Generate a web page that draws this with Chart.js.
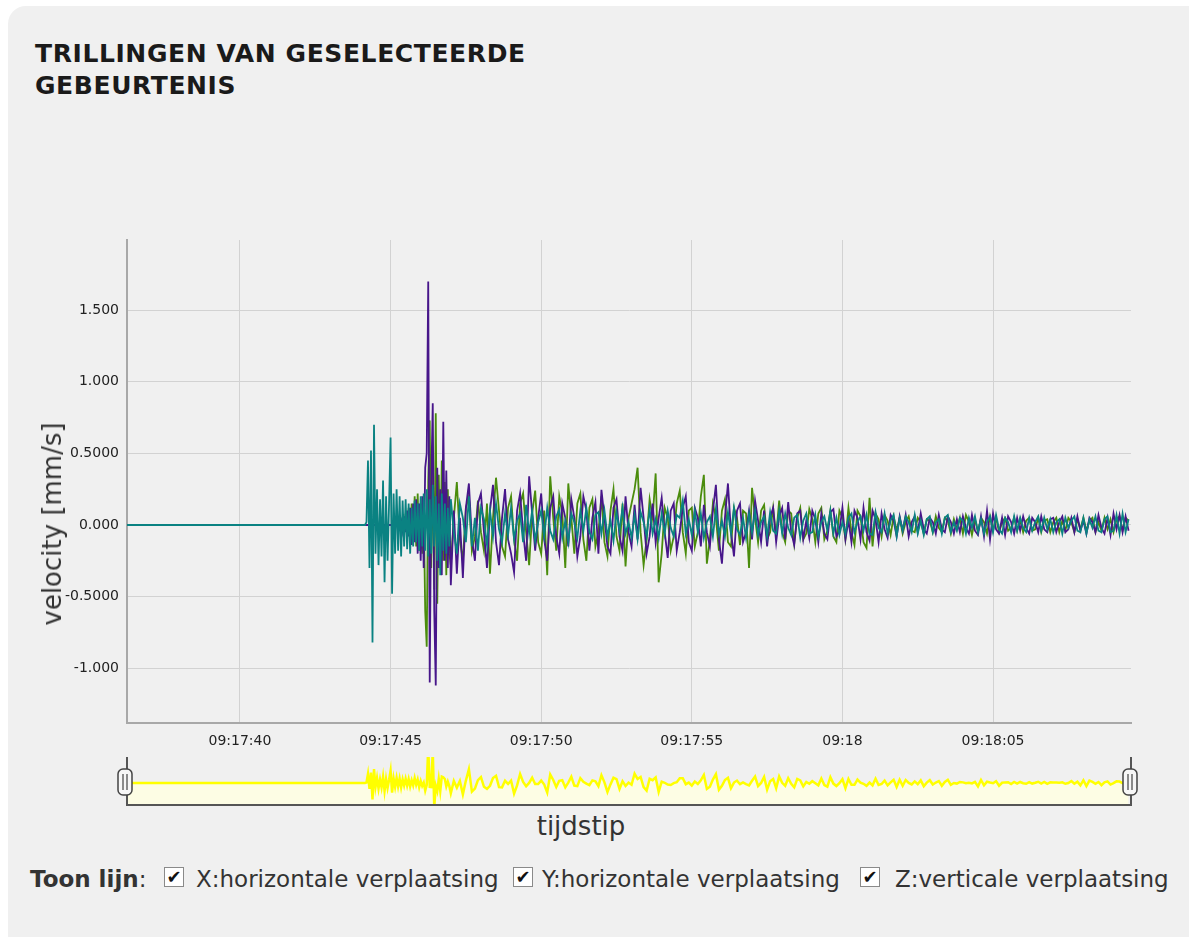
<!DOCTYPE html>
<html>
<head>
<meta charset="utf-8">
<title>Trillingen</title>
<script src="https://cdn.jsdelivr.net/npm/chart.js@4.4.1/dist/chart.umd.min.js"></script>
<style>
  body { margin: 0; background: #fff; font-family: "DejaVu Sans", Verdana, sans-serif; color: #333; }
  #panel { position: absolute; left: 8px; top: 6px; width: 1181px; height: 931px; background: #f0f0f0; border-top-left-radius: 18px; }
  h1 { position: absolute; left: 35px; top: 38px; margin: 0; font-size: 25px; line-height: 32px; letter-spacing: 0.6px; color: #1a1a1a; }
  #main { position: absolute; left: 0; top: 200px; }
  #mini { position: absolute; left: 0; top: 750px; }
  #ylabel { position: absolute; left: 52px; top: 524px; transform: translate(-50%, -50%) rotate(-90deg); font-size: 26px; white-space: nowrap; }
  #xlabel { position: absolute; left: 581px; top: 826px; transform: translate(-50%, -50%); font-size: 26px; }
  .item { position: absolute; top: 866px; font-size: 23px; line-height: 26px; white-space: nowrap; }
  .box { position: absolute; top: 867px; width: 18px; height: 18px; border: 1px solid #8a8a8a; background: #fff; font-size: 18px; line-height: 18px; text-align: center; color: #111; }
</style>
</head>
<body>
<div id="panel"></div>
<h1>TRILLINGEN VAN GESELECTEERDE<br>GEBEURTENIS</h1>
<canvas id="main" width="1160" height="560"></canvas>
<canvas id="mini" width="1160" height="60"></canvas>
<div id="ylabel">velocity [mm/s]</div>
<div id="xlabel">tijdstip</div>
<div class="item" style="left:30px"><b>Toon lijn</b>:</div>
<span class="box" style="left:164px">✔</span>
<div class="item" style="left:196px">X:horizontale verplaatsing</div>
<span class="box" style="left:513px">✔</span>
<div class="item" style="left:542px">Y:horizontale verplaatsing</div>
<span class="box" style="left:860px">✔</span>
<div class="item" style="left:895px">Z:verticale verplaatsing</div>

<script>
// times in seconds after 09:17:00
const recordStart = 36.25
const recordEnd = 69.58
// onset recorded at 20 samples/s, the rest at 10 samples/s
const onsetStart = 44.0
const onsetStep = 0.05
const mainStart = 47.0
const mainStep = 0.1

const xTickValues = [40, 45, 50, 55, 60, 65]
const xTickLabels = ['09:17:40', '09:17:45', '09:17:50', '09:17:55', '09:18', '09:18:05']
const yTickValues = [-1, -0.5, 0, 0.5, 1, 1.5]
const yTickLabels = ['-1.000', '-0.5000', '0.000', '0.5000', '1.000', '1.500']
const yMin = -1.382
const yMax = 1.989

const seriesNames = ['X:horizontale verplaatsing', 'Y:horizontale verplaatsing', 'Z:verticale verplaatsing']

// 44.00 - 46.95 s, one row per half second
const xOnset = [
  0, 0, 0, 0, 0, 0, 0, 0, 0, 0,
  0, 0, 0, 0, 0, 0, 0, 0, 0, 0,
  0, 0, 0, 0, 0, 0, 0.02, -0.03, 0.05, -0.04,
  0.08, -0.06, 0.12, -0.10, 0.15, -0.12, 0.20, -0.15, 0.22, -0.18,
  0.15, -0.20, 0.10, -0.60, -0.85, 0.30, 0.73, -0.30, 0.50, -0.45,
  0.78, -0.55, 0.35, -0.30, 0.45, -0.25, 0.30, -0.35, 0.25, -0.20
]
const yOnset = [
  0, 0, 0, 0, 0, 0, 0, 0, 0, 0,
  0, 0, 0, 0, 0, 0, 0, 0, 0, 0,
  0, 0, 0, 0, 0, 0, 0, 0.03, -0.04, 0.06,
  -0.05, 0.10, -0.08, 0.12, -0.14, 0.15, -0.12, 0.18, -0.20, 0.15,
  -0.25, 0.20, -0.30, 0.40, 0.50, 1.70, -1.10, 0.30, 0.85, -0.60,
  -1.12, 0.40, -0.30, 0.25, -0.35, 0.72, -0.25, 0.38, -0.30, 0.20
]
const zOnset = [
  0, 0, 0, 0, 0.02, 0.45, -0.30, 0.52, -0.82, 0.70,
  -0.20, 0.25, -0.28, 0.18, -0.22, 0.31, -0.40, 0.20, -0.25, 0.15,
  0.61, -0.48, 0.22, -0.20, 0.25, -0.18, 0.20, -0.22, 0.17, -0.15,
  0.18, -0.17, 0.15, -0.20, 0.12, -0.15, 0.17, -0.12, 0.15, -0.18,
  0.20, -0.15, 0.22, -0.18, 0.25, -0.22, 0.18, -0.20, 0.28, -0.15,
  0.20, -0.25, 0.15, -0.35, 0.22, -0.18, 0.15, -0.20, 0.12, -0.15
]

// 47.0 - 69.5 s, one row per second
const xValues = [
  -0.28, 0.05, 0.30, -0.10, -0.25, 0.12, 0.20, -0.18, -0.08, 0.17,
  -0.05, -0.18, 0.15, -0.34, 0.05, 0.33, 0.10, -0.15, -0.22, 0.12,
  0.20, -0.10, -0.25, 0.15, 0.22, -0.05, -0.28, 0.08, 0.24, -0.12,
  -0.20, 0.10, -0.35, 0.34, 0.05, -0.18, 0.20, 0.08, -0.30, 0.29,
  0.05, -0.20, 0.15, 0.22, -0.10, -0.25, 0.12, 0.18, -0.15, -0.05,
  0.20, -0.12, -0.22, 0.10, 0.25, -0.08, -0.18, 0.15, -0.29, 0.05,
  0.15, 0.25, 0.40, -0.05, -0.28, -0.10, 0.18, 0.05, 0.36, -0.40,
  -0.20, 0.12, 0.05, -0.18, -0.08, 0.15, 0.24, -0.05, -0.20, 0.10,
  0.12, -0.15, -0.05, 0.20, 0.35, -0.27, -0.10, 0.15, 0.05, -0.18,
  0.10, 0.18, -0.12, -0.15, 0.12, 0.05, -0.14, 0.10, 0.08, -0.30,
  0.26, 0.05, -0.12, 0.10, 0.14, -0.10, -0.05, 0.12, -0.08, 0.17,
  -0.05, -0.12, 0.10, 0.08, -0.13, 0.05, 0.12, -0.10, -0.06, 0.11,
  0.04, -0.12, 0.08, 0.12, -0.10, -0.04, 0.10, -0.08, -0.12, 0.10,
  0.05, -0.10, 0.12, -0.05, -0.14, 0.10, 0.06, -0.12, -0.16, 0.19,
  -0.15, 0.08, 0.04, -0.08, 0.07, 0.03, -0.07, 0.06, -0.04, 0.05,
  -0.06, 0.02, 0.06, -0.04, -0.05, 0.05, 0.02, -0.06, 0.04, 0.03,
  -0.05, 0.06, -0.02, -0.05, 0.05, 0.03, -0.06, 0.04, -0.03, 0.05,
  -0.06, 0.07, 0.02, -0.07, 0.04, -0.05, 0.05, 0.02, -0.06, 0.06,
  -0.04, 0.05, -0.05, 0.02, 0.05, -0.04, -0.02, 0.05, -0.04, 0.04,
  -0.05, 0.03, 0.05, -0.04, -0.03, 0.05, -0.05, 0.03, 0.04, -0.05,
  0.02, 0.05, -0.05, 0.03, -0.04, 0.05, 0.02, -0.05, 0.04, -0.03,
  0.05, -0.04, 0.03, 0.05, -0.05, 0.02, -0.04, 0.05, -0.03, 0.04,
  -0.05, 0.04, 0.06, -0.04, 0.05, 0.03
]

const yValues = [
  -0.42, 0.10, -0.34, 0.05, -0.37, 0.12, 0.29, -0.10, -0.25, 0.15,
  0.22, -0.05, -0.30, 0.10, 0.28, -0.12, -0.28, 0.05, 0.25, -0.10,
  -0.20, -0.33, 0.10, 0.22, -0.05, -0.25, 0.34, 0.08, -0.18, 0.05,
  0.22, -0.10, -0.25, 0.12, 0.20, -0.08, -0.20, 0.15, 0.05, -0.15,
  0.18, 0.05, -0.22, -0.08, 0.20, 0.10, -0.18, 0.05, 0.16, -0.20,
  0.245, 0.05, -0.15, -0.20, 0.12, 0.18, -0.08, -0.18, 0.20, -0.05,
  -0.15, 0.14, -0.10, 0.26, 0.05, -0.20, -0.08, 0.15, -0.12, 0.05,
  0.19, -0.05, -0.23, 0.10, 0.15, -0.18, -0.05, 0.12, 0.20, -0.12,
  -0.18, 0.12, 0.05, -0.15, 0.14, -0.05, -0.15, 0.10, 0.28, -0.10,
  -0.27, 0.05, 0.29, -0.05, -0.22, 0.10, 0.15, -0.12, -0.05, 0.10,
  -0.10, 0.17, 0.03, -0.12, 0.10, -0.15, 0.05, 0.12, -0.12, 0.06,
  0.12, -0.10, 0.16, -0.05, -0.14, 0.08, 0.10, -0.10, 0.03, -0.09,
  0.10, 0.04, -0.12, 0.08, -0.06, -0.10, 0.09, 0.11, -0.08, -0.04,
  0.12, -0.10, 0.03, -0.12, 0.10, 0.05, -0.10, 0.12, -0.05, -0.11,
  0.10, 0.04, -0.12, 0.08, -0.03, -0.09, 0.07, 0.03, -0.08, 0.06,
  -0.04, 0.07, -0.08, 0.02, 0.06, -0.05, 0.08, -0.03, -0.06, 0.05,
  0.02, -0.06, 0.07, -0.03, -0.05, 0.06, 0.02, -0.06, 0.04, -0.05,
  0.06, -0.02, -0.06, 0.07, -0.04, -0.07, 0.06, -0.08, 0.10, -0.10,
  0.08, -0.03, -0.06, 0.05, -0.07, 0.06, 0.02, -0.06, 0.05, -0.04,
  0.06, -0.02, -0.06, 0.05, 0.02, -0.05, 0.06, -0.03, -0.05, 0.04,
  0.05, -0.05, 0.02, 0.06, -0.05, -0.03, 0.05, -0.05, 0.06, -0.04,
  0.03, -0.06, 0.05, 0.02, -0.05, 0.07, -0.02, -0.06, 0.05, -0.07,
  0.08, -0.03, 0.07, -0.05, 0.06, -0.04
]

const zValues = [
  0.18, -0.05, -0.20, 0.15, 0.05, -0.12, 0.20, -0.15, 0.05, -0.18,
  0.12, 0.04, -0.14, 0.10, -0.08, 0.15, -0.03, -0.12, 0.08, -0.07,
  0.12, -0.10, 0.03, 0.08, -0.12, 0.14, -0.06, 0.10, -0.11, 0.02,
  0.10, -0.08, 0.12, -0.04, -0.10, 0.06, 0.11, -0.09, 0.03, -0.12,
  0.08, 0.02, -0.09, 0.10, -0.04, 0.12, -0.05, -0.10, 0.07, 0.09,
  -0.06, 0.10, -0.08, 0.03, -0.11, 0.09, -0.04, 0.12, -0.06, 0.02,
  -0.09, 0.07, -0.10, 0.09, 0.02, -0.08, 0.11, -0.06, 0.04, -0.09,
  0.08, -0.06, 0.10, -0.02, -0.08, 0.07, 0.05, 0.17, -0.06, 0.04,
  -0.07, 0.10, -0.05, 0.08, -0.09, 0.02, 0.06, -0.08, 0.11, -0.06,
  0.03, -0.08, 0.09, -0.06, 0.12, -0.03, -0.07, 0.05, -0.09, 0.08,
  -0.05, 0.10, -0.07, 0.02, 0.06, -0.08, 0.09, -0.04, -0.06, 0.10,
  -0.06, 0.08, -0.02, -0.07, 0.05, 0.07, -0.09, 0.03, 0.08, -0.06,
  -0.05, 0.07, -0.08, 0.02, 0.06, -0.04, 0.10, -0.06, 0.05, -0.07,
  0.02, -0.06, 0.05, 0.08, -0.05, 0.02, 0.06, -0.04, 0.07, -0.06,
  -0.07, 0.09, -0.02, -0.05, 0.08, -0.06, 0.03, 0.07, -0.08, 0.05,
  -0.04, 0.06, 0.02, -0.05, 0.07, -0.06, 0.03, -0.07, 0.04, 0.06,
  -0.05, 0.02, 0.04, -0.06, 0.05, 0.07, -0.05, 0.02, -0.04, 0.05,
  0.03, -0.06, 0.05, -0.02, 0.06, -0.05, 0.04, -0.06, 0.02, 0.06,
  -0.05, 0.07, -0.03, -0.06, 0.05, 0.02, -0.05, 0.06, -0.04, 0.05,
  -0.02, -0.05, 0.05, -0.04, 0.02, 0.06, -0.04, 0.05, -0.03, 0.04,
  -0.05, 0.02, 0.04, -0.06, 0.05, -0.02, 0.03, 0.06, -0.04, -0.05,
  0.05, -0.06, 0.04, -0.02, 0.06, -0.04, -0.05, 0.04, 0.06, -0.05,
  -0.04, 0.07, -0.06, 0.08, -0.05, 0.04
]

const xColor = '#4a8c0c'
const yColor = '#47168a'
const zColor = '#0a8282'
const gridColor = '#d2d2d2'
const axisColor = '#a8a8a8'
const fontFamily = '"DejaVu Sans", Verdana, sans-serif'

// quiet trace before the event, then the two recorded stretches
function toPoints(onset, values) {
  const points = [{ x: recordStart, y: 0 }]
  onset.forEach((v, i) => points.push({ x: onsetStart + i * onsetStep, y: v }))
  values.forEach((v, i) => points.push({ x: mainStart + i * mainStep, y: v }))
  return points
}

function lineSet(label, onset, values, color, order) {
  return { label: label, data: toPoints(onset, values), borderColor: color, borderWidth: 1.8, order: order }
}

new Chart(document.getElementById('main'), {
  type: 'line',
  data: {
    datasets: [
      lineSet(seriesNames[0], xOnset, xValues, xColor, 3),
      lineSet(seriesNames[1], yOnset, yValues, yColor, 2),
      lineSet(seriesNames[2], zOnset, zValues, zColor, 1)
    ]
  },
  options: {
    responsive: false,
    animation: false,
    devicePixelRatio: 1,
    layout: { padding: { top: 40, right: 29, left: 0, bottom: 0 } },
    elements: { point: { radius: 0 }, line: { tension: 0 } },
    plugins: { legend: { display: false }, tooltip: { enabled: false } },
    scales: {
      x: {
        type: 'linear',
        min: recordStart,
        max: recordEnd,
        afterBuildTicks: scale => { scale.ticks = xTickValues.map(v => ({ value: v })) },
        afterFit: scale => { scale.height = 37 },
        grid: { color: gridColor, drawTicks: false },
        border: { color: axisColor, width: 2 },
        ticks: {
          autoSkip: false, maxRotation: 0, padding: 10, color: '#222',
          font: { family: fontFamily, size: 14 },
          callback: (v, i) => xTickLabels[i]
        }
      },
      y: {
        min: yMin,
        max: yMax,
        afterBuildTicks: scale => { scale.ticks = yTickValues.map(v => ({ value: v })) },
        afterFit: scale => { scale.width = 127 },
        grid: { color: gridColor, drawTicks: false },
        border: { color: axisColor, width: 2 },
        ticks: {
          padding: 8, color: '#222',
          font: { family: fontFamily, size: 14 },
          callback: (v, i) => yTickLabels[i]
        }
      }
    }
  }
});

// range selector shows the average of the three components
const avg3 = (a, b, c) => a.map((v, i) => (v + b[i] + c[i]) / 3)
const miniOnset = avg3(xOnset, yOnset, zOnset)
const miniValues = avg3(xValues, yValues, zValues)

function drawHandle(ctx, cx, top) {
  const w = 14, h = 26, r = 5
  ctx.fillStyle = '#f7f7f7'
  ctx.strokeStyle = '#444'
  ctx.lineWidth = 1.5
  ctx.beginPath()
  ctx.roundRect(cx - w / 2, top, w, h, r)
  ctx.fill()
  ctx.stroke()
  ctx.lineWidth = 1.2
  ctx.beginPath()
  ctx.moveTo(cx - 2, top + 5); ctx.lineTo(cx - 2, top + h - 5)
  ctx.moveTo(cx + 2, top + 5); ctx.lineTo(cx + 2, top + h - 5)
  ctx.stroke()
}

const rangeFrame = {
  id: 'rangeFrame',
  afterDraw(chart) {
    const { ctx, chartArea: a } = chart
    ctx.save()
    ctx.strokeStyle = '#555'
    ctx.lineWidth = 2
    ctx.beginPath()
    ctx.moveTo(a.left, a.top)
    ctx.lineTo(a.left, a.bottom)
    ctx.lineTo(a.right, a.bottom)
    ctx.lineTo(a.right, a.top)
    ctx.stroke()
    drawHandle(ctx, a.left - 2, a.top + 12)
    drawHandle(ctx, a.right - 1, a.top + 12)
    ctx.restore()
  }
}

new Chart(document.getElementById('mini'), {
  type: 'line',
  data: {
    datasets: [{
      data: toPoints(miniOnset, miniValues),
      borderColor: '#ffff00',
      borderWidth: 2.5,
      backgroundColor: '#fdfde4',
      fill: 'start'
    }]
  },
  options: {
    responsive: false,
    animation: false,
    devicePixelRatio: 1,
    layout: { padding: { top: 7, right: 29, left: 127, bottom: 5 } },
    elements: { point: { radius: 0 }, line: { tension: 0 } },
    plugins: { legend: { display: false }, tooltip: { enabled: false } },
    scales: {
      x: { type: 'linear', min: recordStart, max: recordEnd, display: false },
      y: { min: -0.367, max: 0.433, display: false }
    }
  },
  plugins: [rangeFrame]
});
</script>
</body>
</html>
